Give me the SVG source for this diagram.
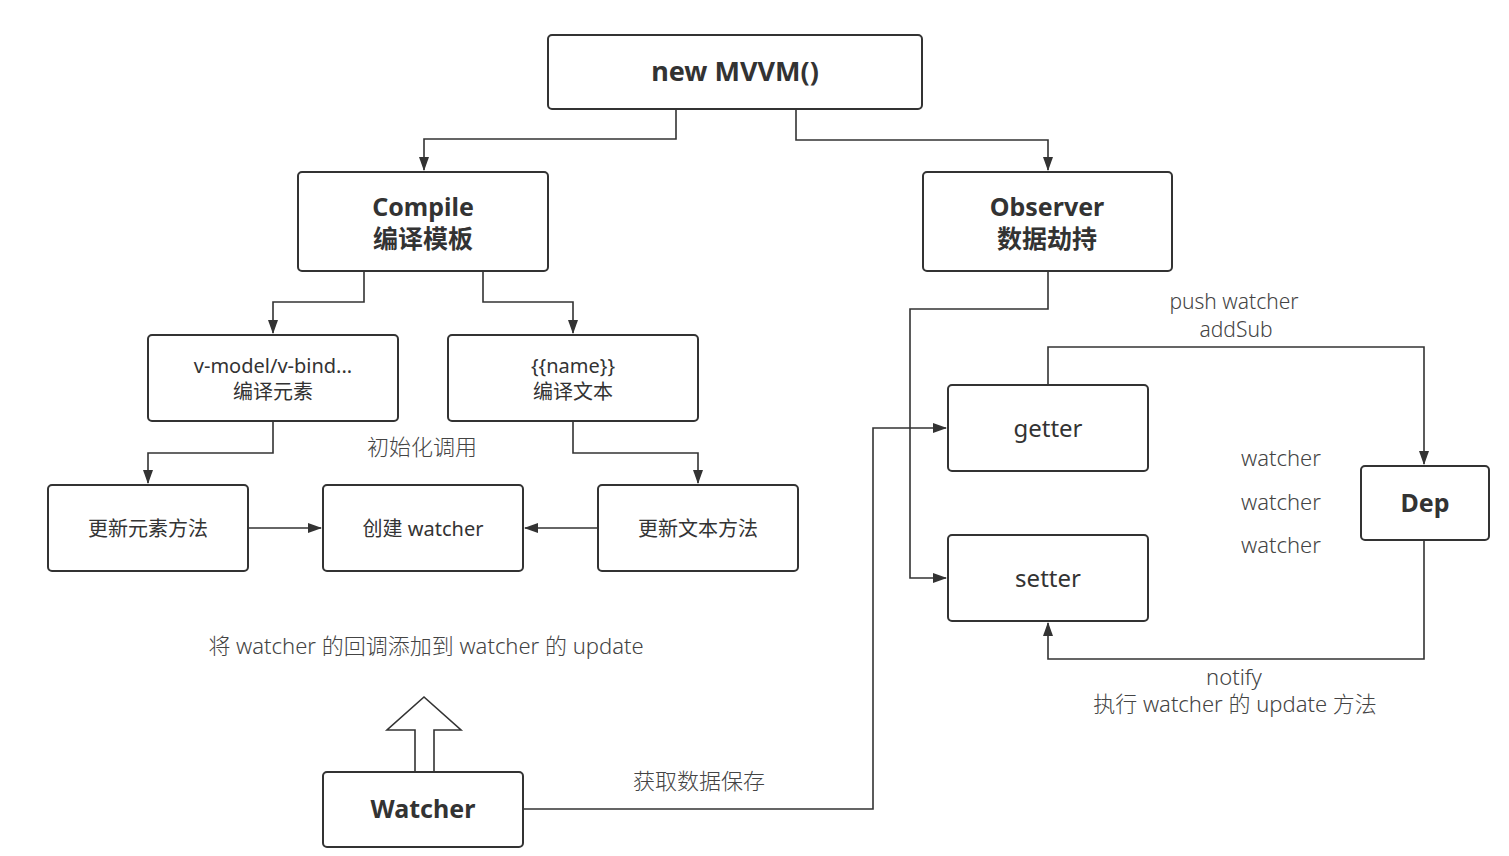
<svg xmlns="http://www.w3.org/2000/svg" width="1509" height="856" viewBox="0 0 1509 856">
<style>
.box{fill:#fff;stroke:#333;stroke-width:2}
.t{font-family:"Noto Sans","Noto Sans CJK SC",sans-serif;fill:#333;text-anchor:middle}
.b{font-weight:bold;font-size:25px}
.n{font-size:20px}
.m{font-size:24px}
.l{font-size:22px;fill:#444;font-weight:300}
.c{fill:none;stroke:#333;stroke-width:1.6}
</style>
<defs>
<marker id="ah" markerWidth="14" markerHeight="12" refX="13" refY="6" orient="auto" markerUnits="userSpaceOnUse">
<path d="M0,1 L14,6 L0,11 Z" fill="#333"/>
</marker>
</defs>
<rect width="1509" height="856" fill="#fff"/>
<g id="connectors">
<path class="c" d="M676,109 V139 H424 V170" marker-end="url(#ah)"/>
<path class="c" d="M796,109 V140 H1048 V170" marker-end="url(#ah)"/>
<path class="c" d="M364,271 V302 H273 V333" marker-end="url(#ah)"/>
<path class="c" d="M483,271 V302 H573 V333" marker-end="url(#ah)"/>
<path class="c" d="M273,421 V453 H148 V483" marker-end="url(#ah)"/>
<path class="c" d="M573,421 V453 H698 V483" marker-end="url(#ah)"/>
<path class="c" d="M248,528 H321" marker-end="url(#ah)"/>
<path class="c" d="M598,528 H525" marker-end="url(#ah)"/>
<path class="c" d="M1048,271 V309 H910 V578 H946" marker-end="url(#ah)"/>
<path class="c" d="M523,809 H873 V428 H946" marker-end="url(#ah)"/>
<path class="c" d="M1048,385 V347 H1424 V464" marker-end="url(#ah)"/>
<path class="c" d="M1424,540 V659 H1048 V623" marker-end="url(#ah)"/>
<path fill="#fff" stroke="#333" stroke-width="1.6" d="M415,772 V730 H387 L424,697 L461,730 H434 V772"/>
</g>
<g id="mvvm"><rect class="box" x="548" y="35" width="374" height="74" rx="4"/><text class="t b" x="735" y="81" style="font-size:27px">new MVVM()</text></g>
<g id="compile"><rect class="box" x="298" y="172" width="250" height="99" rx="4"/><text class="t b" x="423" y="216">Compile</text><text class="t b" x="423" y="248">编译模板</text></g>
<g id="observer"><rect class="box" x="923" y="172" width="249" height="99" rx="4"/><text class="t b" x="1047" y="216">Observer</text><text class="t b" x="1047" y="248">数据劫持</text></g>
<g id="vmodel"><rect class="box" x="148" y="335" width="250" height="86" rx="4"/><text class="t n" x="273" y="373">v-model/v-bind...</text><text class="t n" x="273" y="399">编译元素</text></g>
<g id="name"><rect class="box" x="448" y="335" width="250" height="86" rx="4"/><text class="t n" x="573" y="373">{{name}}</text><text class="t n" x="573" y="399">编译文本</text></g>
<g id="updEl"><rect class="box" x="48" y="485" width="200" height="86" rx="4"/><text class="t n" x="148" y="536">更新元素方法</text></g>
<g id="createW"><rect class="box" x="323" y="485" width="200" height="86" rx="4"/><text class="t n" x="423" y="536">创建 watcher</text></g>
<g id="updTxt"><rect class="box" x="598" y="485" width="200" height="86" rx="4"/><text class="t n" x="698" y="536">更新文本方法</text></g>
<g id="getter"><rect class="box" x="948" y="385" width="200" height="86" rx="4"/><text class="t m" x="1048" y="437">getter</text></g>
<g id="setter"><rect class="box" x="948" y="535" width="200" height="86" rx="4"/><text class="t m" x="1048" y="587">setter</text></g>
<g id="dep"><rect class="box" x="1361" y="466" width="128" height="74" rx="4"/><text class="t b" x="1425" y="512">Dep</text></g>
<g id="watcher"><rect class="box" x="323" y="772" width="200" height="75" rx="4"/><text class="t b" x="423" y="818">Watcher</text></g>
<g id="labels">
<text class="t l" x="1234" y="309" style="font-size:21px">push watcher</text>
<text class="t l" x="1236" y="337" style="font-size:21px">addSub</text>
<text class="t l" x="1281" y="466">watcher</text>
<text class="t l" x="1281" y="510">watcher</text>
<text class="t l" x="1281" y="553">watcher</text>
<text class="t l" x="1234" y="685">notify</text>
<text class="t l" x="1235" y="712">执行 watcher 的 update 方法</text>
<text class="t l" x="422" y="455">初始化调用</text>
<text class="t l" x="426" y="654">将 watcher 的回调添加到 watcher 的 update</text>
<text class="t l" x="699" y="789">获取数据保存</text>
</g>
</svg>
